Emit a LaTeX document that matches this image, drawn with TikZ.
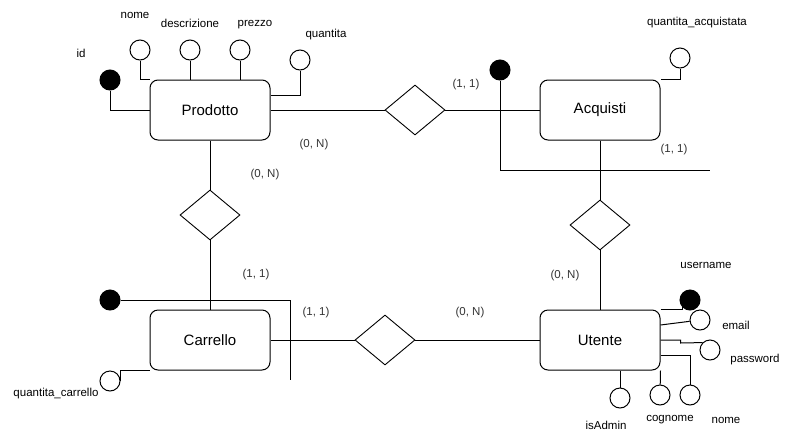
\documentclass[tikz,border=0pt]{standalone}
\usepackage{fontspec}
\setmainfont{Liberation Sans}
\usetikzlibrary{shapes.geometric}

\begin{document}
\begin{tikzpicture}[
  x=1pt, y=-1pt,
  entity/.style={rectangle, draw=black, fill=white, line width=1pt, minimum width=120pt, minimum height=60pt, text centered, rounded corners=8pt, font=\fontsize{15}{17}\selectfont},
  relation/.style={diamond, draw=black, fill=white, line width=0.9pt, minimum width=60pt, minimum height=50pt, inner sep=0pt},
  attr/.style={circle, draw=black, fill=white, line width=1pt, minimum size=20pt, inner sep=0pt},
  keyattr/.style={attr, fill=black},
  lbl/.style={font=\fontsize{11.5}{13}\selectfont, inner sep=0pt},
  card/.style={font=\fontsize{11.5}{13}\selectfont, text=black!80, inner sep=0pt},
  link/.style={line width=1pt}
]
\useasboundingbox (0,0) rectangle (790,440);

% Entities
\node (prodotto) [entity] at (210,110) {Prodotto};
\node (acquisti) [entity] at (600,110) {Acquisti};
\node (carrello) [entity] at (210,340) {Carrello};
\node (utente) [entity] at (600,340) {Utente};

% Relations
\node (relPA) [relation] at (415,110) {};
\node (relAU) [relation] at (600,225) {};
\node (relCU) [relation] at (385,340) {};
\node (relPC) [relation] at (210,215) {};

% Prodotto attributes
\node (pId) [keyattr] at (110,80) {};
\node (pNome) [attr] at (140,50) {};
\node (pDesc) [attr] at (190,50) {};
\node (pPrezzo) [attr] at (240,50) {};
\node (pQuant) [attr] at (300,60) {};
\node [lbl] at (81,53) {id};
\node [lbl] at (135,15) {nome};
\node [lbl] at (190,23) {descrizione};
\node [lbl] at (255,25) {prezzo};
\node [lbl] at (326,35) {quantita};

% Acquisti attributes
\node (aKey) [keyattr] at (500,70) {};
\node (aQuant) [attr] at (680,58) {};
\coordinate (aEnd) at (710,170);
\node [lbl] at (697,23) {quantita\_acquistata};

% Carrello attributes
\node (cKey) [keyattr] at (110,300) {};
\node (cQuant) [attr] at (110,381) {};
\coordinate (cEnd) at (290,380);
\node [lbl] at (56,394) {quantita\_carrello};

% Utente attributes
\node (uUser) [keyattr] at (690,300) {};
\node (uEmail) [attr] at (700,320) {};
\node (uPass) [attr] at (710,350) {};
\node (uNome) [attr] at (690,395) {};
\node (uCogn) [attr] at (660,395) {};
\node (uAdmin) [attr] at (620,398) {};
\node [lbl] at (706,265) {username};
\node [lbl] at (736,325) {email};
\node [lbl] at (755,360) {password};
\node [lbl] at (726,420) {nome};
\node [lbl] at (670,420) {cognome};
\node [lbl] at (606,425) {isAdmin};

% Cardinalities
\node [card] at (314,145) {(0, N)};
\node [card] at (466,85) {(1, 1)};
\node [card] at (674,150) {(1, 1)};
\node [card] at (265,175) {(0, N)};
\node [card] at (256,275) {(1, 1)};
\node [card] at (565,276) {(0, N)};
\node [card] at (316,313) {(1, 1)};
\node [card] at (470,313) {(0, N)};

% Links between entities
\draw [link] (prodotto) -- (relPA) -- (acquisti);
\draw [link] (acquisti) -- (relAU) -- (utente);
\draw [link] (utente) -- (relCU) -- (carrello);
\draw [link] (prodotto) -- (relPC) -- (carrello);

% Attribute links
\draw [link] (pId) |- (prodotto.west);
\draw [link] (pNome) |- (prodotto.north west);
\draw [link] (pDesc) -- (pDesc |- prodotto.north);
\draw [link] (pPrezzo) -- (pPrezzo |- prodotto.north);
\draw [link] (pQuant) |- ([yshift=15pt]prodotto.east);
\draw [link] (aKey) |- (aEnd);
\draw [link] (aQuant) |- (acquisti.north east);
\draw [link] (cKey) -| (cEnd);
\draw [link] (cQuant.east) |- (carrello.south west);
\draw [link] (utente.north east) -| (uUser.south west);
\draw [link] ([yshift=15pt]utente.east) -- (uEmail);
\draw [link] (utente.east) -- ++(20,0) -- ++(0,3) -- (uPass.135);
\draw [link] (uNome) |- ([yshift=-15pt]utente.east);
\draw [link] (uCogn) -- (utente.south east);
\draw [link] (uAdmin) -- (uAdmin |- utente.south);
\end{tikzpicture}
\end{document}
